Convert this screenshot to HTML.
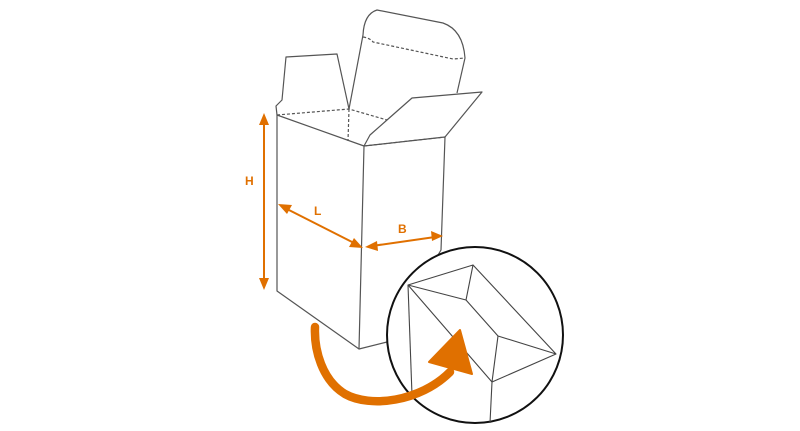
<!DOCTYPE html>
<html><head><meta charset="utf-8"><style>html,body{margin:0;padding:0;background:#fff}svg{display:block}</style></head>
<body>
<svg width="800" height="431" viewBox="0 0 800 431" xmlns="http://www.w3.org/2000/svg">
<g fill="none" stroke="#555" stroke-width="1.2" stroke-linejoin="round">
<!-- box body -->
<path d="M277,115 L277,291 L359,349 L364,146 Z" fill="#fff"/>
<path d="M364,146 L445,137 L441,250 L387,342 L359,349"/>
<!-- left flap -->
<path d="M277,115 L276,106 L282,100 L286,57 L337,54 L349,109"/>
<!-- tall flap -->
<path d="M349,109 L363,35 Q364,14 377,10 L443,23 Q463,30 465,58 L457,93"/>
<!-- right flap -->
<path d="M364,146 L370,135 L387,120 L412,98 L482,92 L445,137"/>
<g stroke-dasharray="3,2">
<path d="M277,115 L349,109 L387,120"/>
<path d="M349,109 L348,141"/>
<path d="M364,146 L445,137"/>
<path d="M363,37 Q370,38 373,42 L453,59 L465,58"/>
</g>
</g>
<!-- circle -->
<circle cx="475" cy="335" r="88" fill="#fff" stroke="#111" stroke-width="2"/>
<g fill="none" stroke="#444" stroke-width="1.1" stroke-linejoin="round">
<path d="M408,285 L473,265 L466,300 Z"/>
<path d="M473,265 L556,354 L498,336 L466,300"/>
<path d="M408,285 L492,382 L556,354"/>
<path d="M498,336 L492,382 L490,423"/>
<path d="M408,285 L412,395"/>
</g>
<!-- orange dims -->
<g stroke="#e07000" stroke-width="2" fill="#e07000">
<line x1="264" y1="122" x2="264" y2="281"/>
<path d="M264,113 L259,125 L269,125 Z" stroke="none"/>
<path d="M264,290 L259,278 L269,278 Z" stroke="none"/>
<line x1="285" y1="208" x2="356" y2="244"/>
<path d="M278,204 L292,205 L287,214 Z" stroke="none"/>
<path d="M363,248 L349,247 L354,238 Z" stroke="none"/>
<line x1="372" y1="246" x2="435" y2="237"/>
<path d="M365,247 L377,241 L378,251 Z" stroke="none"/>
<path d="M443,236 L431,231 L432,241 Z" stroke="none"/>
</g>
<g font-family="Liberation Sans, sans-serif" font-weight="bold" font-size="12" fill="#e07000">
<text x="245" y="185">H</text>
<text x="314" y="215">L</text>
<text x="398" y="233">B</text>
</g>
<!-- big arrow -->
<path d="M315,327 C314,350 322,380 345,394 C370,408 420,402 450,372" fill="none" stroke="#e07000" stroke-width="8.5" stroke-linecap="round"/>
<path d="M460,330 L429,362 L472,374 Z" fill="#e07000" stroke="#e07000" stroke-width="2" stroke-linejoin="round"/>
</svg>
</body></html>
